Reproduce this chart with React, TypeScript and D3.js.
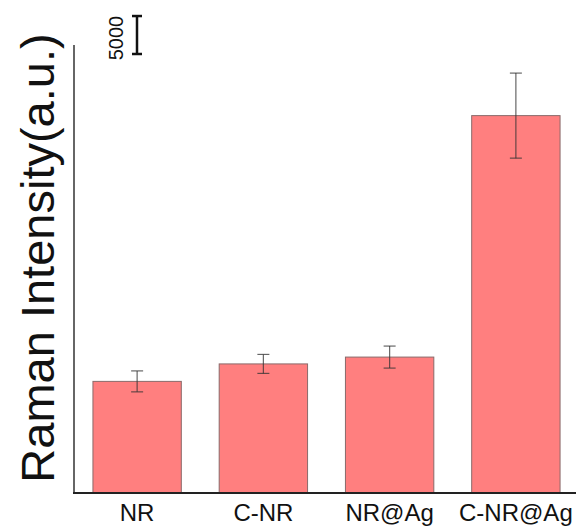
import { useEffect, useRef } from 'react';
import * as d3 from 'd3';

const categories = ['NR', 'C-NR', 'NR@Ag', 'C-NR@Ag'];
const means = [14700, 17000, 17900, 49700];
const errors = [1380, 1250, 1450, 5600];
const scaleBarValue = 5000;

const WIDTH = 576;
const HEIGHT = 529;
const AXIS_X = 74;
const AXIS_BOTTOM = 493;
const AXIS_TOP = 45;

export default function App() {
  const svgRef = useRef<SVGSVGElement>(null);

  useEffect(() => {
    const svg = d3.select(svgRef.current);
    svg.selectAll('*').remove();
    svg.style('font-family', 'Arial, "Liberation Sans", sans-serif');

    const x = d3
      .scaleBand()
      .domain(categories)
      .range([AXIS_X + 0, 579])
      .paddingInner(0.3)
      .paddingOuter(0.15);
    const y = d3.scaleLinear().domain([0, 59000]).range([AXIS_BOTTOM, AXIS_TOP]);

    // bars
    svg
      .append('g')
      .selectAll('rect')
      .data(categories)
      .enter()
      .append('rect')
      .attr('x', d => x(d) ?? 0)
      .attr('y', (_d, i) => y(means[i]))
      .attr('width', x.bandwidth())
      .attr('height', (_d, i) => y(0) - y(means[i]))
      .attr('fill', '#ff7f7f')
      .attr('stroke', '#8a6a6a')
      .attr('stroke-width', 1);

    // error bars
    const eg = svg.append('g').attr('stroke', '#333').attr('stroke-opacity', 0.75).attr('stroke-width', 1.2);
    categories.forEach((c, i) => {
      const cx = (x(c) ?? 0) + x.bandwidth() / 2;
      const top = y(means[i] + errors[i]);
      const bot = y(means[i] - errors[i]);
      eg.append('line').attr('x1', cx).attr('x2', cx).attr('y1', top).attr('y2', bot);
      eg.append('line').attr('x1', cx - 6).attr('x2', cx + 6).attr('y1', top).attr('y2', top);
      eg.append('line').attr('x1', cx - 6).attr('x2', cx + 6).attr('y1', bot).attr('y2', bot);
    });

    // axes lines
    svg
      .append('line')
      .attr('x1', AXIS_X)
      .attr('x2', AXIS_X)
      .attr('y1', AXIS_TOP)
      .attr('y2', AXIS_BOTTOM)
      .attr('stroke', '#666')
      .attr('stroke-width', 2);
    svg
      .append('line')
      .attr('x1', AXIS_X - 1)
      .attr('x2', WIDTH)
      .attr('y1', AXIS_BOTTOM)
      .attr('y2', AXIS_BOTTOM)
      .attr('stroke', '#222')
      .attr('stroke-width', 2);

    // category labels
    svg
      .append('g')
      .selectAll('text')
      .data(categories)
      .enter()
      .append('text')
      .attr('x', d => (x(d) ?? 0) + x.bandwidth() / 2)
      .attr('y', 521)
      .attr('text-anchor', 'middle')
      .attr('font-size', '24px')
      .attr('fill', '#111')
      .text(d => d);

    // y label
    svg
      .append('text')
      .attr('transform', `translate(54, 258) rotate(-90)`)
      .attr('text-anchor', 'middle')
      .attr('font-size', '47px')
      .attr('fill', '#111')
      .text('Raman Intensity(a.u.)');

    // scale bar
    const sbX = 137;
    const sbBottom = 54;
    const sbTop = sbBottom - (y(0) - y(scaleBarValue));
    const sb = svg.append('g').attr('stroke', '#111').attr('stroke-width', 2.5);
    sb.append('line').attr('x1', sbX).attr('x2', sbX).attr('y1', sbTop).attr('y2', sbBottom);
    sb.append('line').attr('x1', sbX - 5).attr('x2', sbX + 5).attr('y1', sbTop).attr('y2', sbTop);
    sb.append('line').attr('x1', sbX - 5).attr('x2', sbX + 5).attr('y1', sbBottom).attr('y2', sbBottom);
    svg
      .append('text')
      .attr('transform', `translate(123, ${(sbTop + sbBottom) / 2 + 3}) rotate(-90)`)
      .attr('text-anchor', 'middle')
      .attr('font-size', '20px')
      .attr('fill', '#111')
      .text(String(scaleBarValue));
  }, []);

  return (
    <svg
      ref={svgRef}
      width={WIDTH}
      height={HEIGHT}
      style={{ position: 'absolute', left: 0, top: 0, background: '#fff' }}
    />
  );
}
